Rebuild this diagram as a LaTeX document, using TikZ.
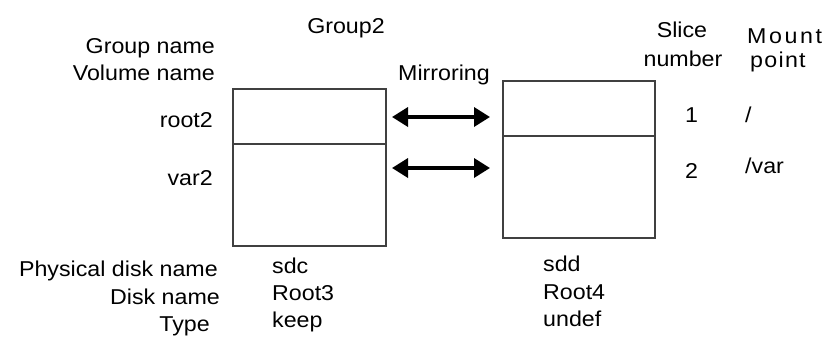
\documentclass[tikz,border=0pt]{standalone}
\usepackage{fontspec}
\setmainfont{Liberation Sans}[FakeStretch=1.08]
\usetikzlibrary{arrows.meta}
\begin{document}
\begin{tikzpicture}[x=1pt,y=-1pt,
  lbl/.style={inner sep=0pt,anchor=base,font=\fontsize{21.5}{26}\selectfont},
  lbe/.style={lbl,anchor=base east},
  lbw/.style={lbl,anchor=base west},
  part/.style={draw=black!75,line width=1.6pt,inner sep=0pt,anchor=north west},
  mirror/.style={line width=3.5pt,{Triangle[length=16pt,width=19pt]}-{Triangle[length=16pt,width=19pt]}}]
\useasboundingbox (0,0) rectangle (828,338);
% boxes
\node[part,minimum width=153pt,minimum height=55pt] (lt) at (232,88) {};
\node[part,minimum width=153pt,minimum height=102pt] (lb) at (232,143) {};
\node[part,minimum width=152pt,minimum height=55pt] (rt) at (502,80) {};
\node[part,minimum width=152pt,minimum height=102pt] (rb) at (502,135) {};
% arrows
\coordinate (a1l) at (392,117);
\coordinate (a1r) at (490,117);
\coordinate (a2l) at (392,168);
\coordinate (a2r) at (490,168);
\draw[mirror] (a1l) -- (a1r);
\draw[mirror] (a2l) -- (a2r);
% labels
\node[lbl] (g2) at (346,33) {Group2};
\node[lbe] (gn) at (215,53) {Group name};
\node[lbe] (vn) at (215,80) {Volume name};
\node[lbl] (mir) at (444,80) {Mirroring};
\node[lbe] (r2) at (213,127) {root2};
\node[lbe] (v2) at (213,185) {var2};
\node[lbl] (sl) at (682,37) {Slice};
\node[lbl] (nb) at (683,66) {number};
\node[lbw] (mo) at (747,43) {\addfontfeature{LetterSpace=12}Mount};
\node[lbw] (po) at (750,67) {\addfontfeature{LetterSpace=6}point};
\node[lbw] (s1) at (685,122) {1};
\node[lbw] (m1) at (745,122) {/};
\node[lbw] (s2) at (685,178) {2};
\node[lbw] (m2) at (745,173) {/var};
\node[lbe] (pd) at (218,276) {Physical disk name};
\node[lbe] (dn) at (220,304) {Disk name};
\node[lbe] (ty) at (210,331) {Type};
\node[lbw] (sdc) at (272,273) {sdc};
\node[lbw] (r3) at (272,300) {Root3};
\node[lbw] (kp) at (272,327) {keep};
\node[lbw] (sdd) at (543,271) {sdd};
\node[lbw] (r4) at (543,299) {Root4};
\node[lbw] (ud) at (543,326) {undef};
\end{tikzpicture}
\end{document}
